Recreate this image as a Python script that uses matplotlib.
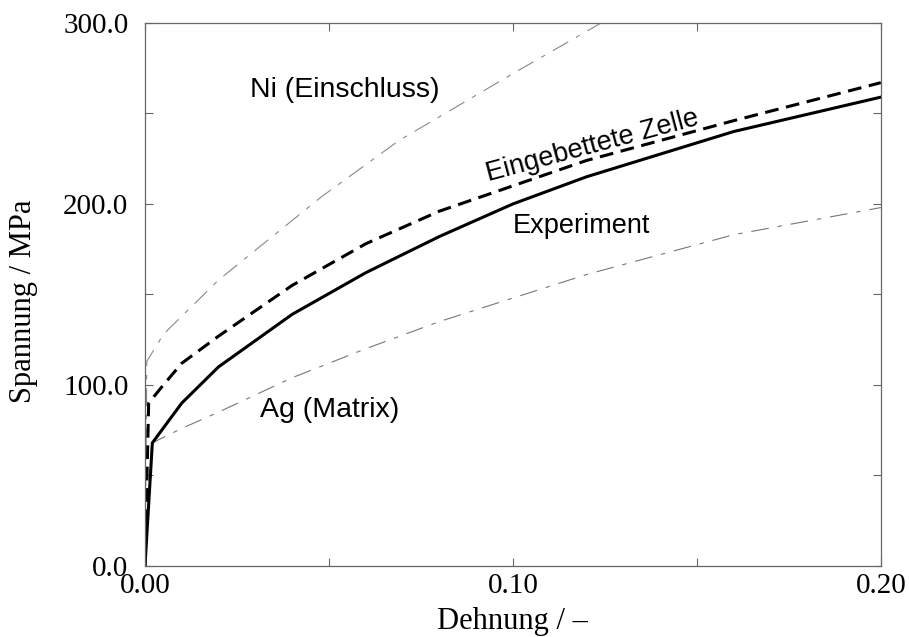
import matplotlib
matplotlib.use('Agg')
import matplotlib.pyplot as plt
from matplotlib.ticker import MultipleLocator, FormatStrFormatter

# Data
exp_x = [0.0, 0.002, 0.01, 0.02, 0.04, 0.06, 0.08, 0.10, 0.12, 0.16, 0.20]
exp_y = [0.0, 68, 90, 110, 139, 162, 182, 200, 215, 240, 259]

cell_x = [0.0, 0.001, 0.005, 0.01, 0.02, 0.04, 0.06, 0.08, 0.10, 0.12, 0.16, 0.20]
cell_y = [0.0, 90, 100, 112, 127, 155, 178, 196, 210, 224, 246, 267]

ni_x = [0.0, 0.0005, 0.005, 0.02, 0.048, 0.069, 0.10, 0.124, 0.13]
ni_y = [0.0, 113, 128, 158, 204, 235, 272, 300, 307]

ag_x = [0.0, 0.002, 0.01, 0.02, 0.04, 0.06, 0.08, 0.10, 0.12, 0.16, 0.20]
ag_y = [0.0, 68, 76, 85, 104, 120, 135, 148, 161, 183, 198]

serif = ['Liberation Serif', 'DejaVu Serif']
sans = ['Liberation Sans', 'DejaVu Sans']

fig = plt.figure(figsize=(9.09, 6.37), dpi=100)
ax = fig.add_axes([0.1595, 0.1115, 0.8095, 0.8525])

ax.plot(ni_x, ni_y, color='#888888', lw=0.8, ls='-.', dashes=(16, 8, 4, 8))
ax.plot(ag_x, ag_y, color='#777777', lw=0.8, ls='-.', dashes=(16, 8, 4, 8))
ax.plot(cell_x, cell_y, color='black', lw=2.2, ls='--', dashes=(4.5, 2.5))
ax.plot(exp_x, exp_y, color='black', lw=2.2)

ax.set_xlim(0, 0.2)
ax.set_ylim(0, 300)
ax.xaxis.set_major_locator(MultipleLocator(0.1))
ax.xaxis.set_minor_locator(MultipleLocator(0.05))
ax.yaxis.set_major_locator(MultipleLocator(100))
ax.yaxis.set_minor_locator(MultipleLocator(50))
ax.xaxis.set_major_formatter(FormatStrFormatter('%.2f'))
ax.yaxis.set_major_formatter(FormatStrFormatter('%.1f'))
ax.tick_params(which='both', direction='in', top=True, right=True,
               length=6, width=0.8, color='#666666')
ax.tick_params(axis='x', which='major', pad=5)
ax.tick_params(axis='y', which='major', pad=12)
for lab in ax.get_xticklabels() + ax.get_yticklabels():
    lab.set_fontfamily(serif)
    lab.set_fontsize(21)
for s in ax.spines.values():
    s.set_color('#666666')
    s.set_linewidth(0.9)

fig.text(512 / 909, 1 - 629 / 637, 'Dehnung / –', fontsize=22, family=serif,
         ha='center', va='baseline')
fig.text(24 / 909, 1 - 301 / 637, 'Spannung / MPa', fontsize=22, family=serif,
         ha='center', va='center', rotation=90)

ax.text(0.0543, 263, 'Ni (Einschluss)', fontsize=20.5, family=sans, ha='center', va='center')
ax.text(0.1215, 232, 'Eingebettete Zelle', fontsize=19.5, family=sans, ha='center',
        va='center', rotation=15)
ax.text(0.1187, 188, 'Experiment', fontsize=19.5, family=sans, ha='center', va='center')
ax.text(0.0503, 86, 'Ag (Matrix)', fontsize=20.5, family=sans, ha='center', va='center')

fig.savefig('out.png', dpi=100)
